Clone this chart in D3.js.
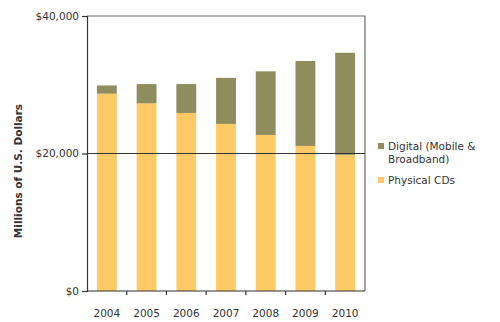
<!DOCTYPE html>
<html><head><meta charset="utf-8">
<script src="https://cdn.jsdelivr.net/npm/d3@7"></script>
<style>body{margin:0;background:#fff}svg{display:block}</style>
</head><body>
<svg id="chart" width="500" height="322"></svg>
<script>
const years = ["2004","2005","2006","2007","2008","2009","2010"];
const physicalCDs = [28700, 27300, 25900, 24300, 22700, 21100, 19800];
const digital = [1200, 2800, 4200, 6700, 9250, 12350, 14850];
const yTicks = [0, 20000, 40000];
const seriesNames = ["Digital (Mobile &\nBroadband)", "Physical CDs"];
const colors = {physical: "#FFC966", digital: "#8F8C5E"};

const svg = d3.select("#chart");
const m = {left: 87, top: 16, right: 365, bottom: 291};
const x = d3.scaleBand().domain(years).range([m.left, m.right]).paddingInner(0.5).paddingOuter(0.25);
const y = d3.scaleLinear().domain([0, 40000]).range([m.bottom, m.top]);

const font = "'DejaVu Sans', Verdana, sans-serif";

// frame top/right
svg.append("path").attr("d", `M${m.left},${m.top}H${m.right}V${m.bottom}`)
  .attr("fill", "none").attr("stroke", "#6a6a6a").attr("stroke-width", 1.2);

const rows = years.map((yr, i) => ({year: yr, physical: physicalCDs[i], digital: digital[i]}));
const stack = d3.stack().keys(["physical", "digital"])(rows);

svg.append("g").selectAll("g").data(stack).join("g")
  .attr("fill", d => colors[d.key])
  .selectAll("rect").data(d => d).join("rect")
  .attr("x", d => x(d.data.year))
  .attr("width", x.bandwidth())
  .attr("y", d => y(d[1]))
  .attr("height", d => y(d[0]) - y(d[1]));

// gridline at 20000
svg.append("line").attr("x1", m.left).attr("x2", m.right)
  .attr("y1", y(20000)).attr("y2", y(20000))
  .attr("stroke", "#333").attr("stroke-width", 1.2);

// y axis
const yAxis = svg.append("g").attr("transform", `translate(${m.left},0)`)
  .call(d3.axisLeft(y).tickValues(yTicks).tickSize(5).tickPadding(3)
    .tickFormat(d => "$" + d3.format(",")(d)));
yAxis.select(".domain").attr("stroke", "#333").attr("stroke-width", 1.2);
yAxis.selectAll(".tick line").attr("stroke", "#333").attr("stroke-width", 1.2);
yAxis.selectAll("text").attr("font-family", font).attr("font-size", 10.5).attr("fill", "#333");

// x axis with ticks at band boundaries
const xAxis = svg.append("g").attr("transform", `translate(0,${m.bottom})`)
  .call(d3.axisBottom(x).tickSize(0).tickPadding(19));
xAxis.select(".domain").attr("d", `M${m.left},0H${m.right}`).attr("stroke", "#333").attr("stroke-width", 1.2);
xAxis.selectAll("text").attr("font-family", font).attr("font-size", 10.5).attr("fill", "#333");
const step = x.step();
const bounds = years.slice(1).map(yr => x(yr) - (step - x.bandwidth()) / 2);
xAxis.selectAll(".bt").data(bounds).join("line").attr("class", "bt")
  .attr("x1", d => d).attr("x2", d => d).attr("y1", 0).attr("y2", 4)
  .attr("stroke", "#333").attr("stroke-width", 1.2);

// y title
svg.append("text").attr("transform", `translate(22,171) rotate(-90)`)
  .attr("text-anchor", "middle").attr("font-family", font).attr("font-weight", "bold")
  .attr("font-size", 10.5).attr("fill", "#333").text("Millions of U.S. Dollars");

// legend
const legend = [
  {name: seriesNames[0], color: colors.digital, y: 146},
  {name: seriesNames[1], color: colors.physical, y: 180}
];
const lg = svg.append("g");
legend.forEach(l => {
  lg.append("rect").attr("x", 378).attr("y", l.y - 3).attr("width", 6).attr("height", 6).attr("fill", l.color);
  const t = lg.append("text").attr("x", 388).attr("y", l.y + 3.5)
    .attr("font-family", font).attr("font-size", 10.5).attr("fill", "#333");
  l.name.split("\n").forEach((s, i) => t.append("tspan").attr("x", 388).attr("dy", i ? 13 : 0).text(s));
});
</script>
</body></html>
